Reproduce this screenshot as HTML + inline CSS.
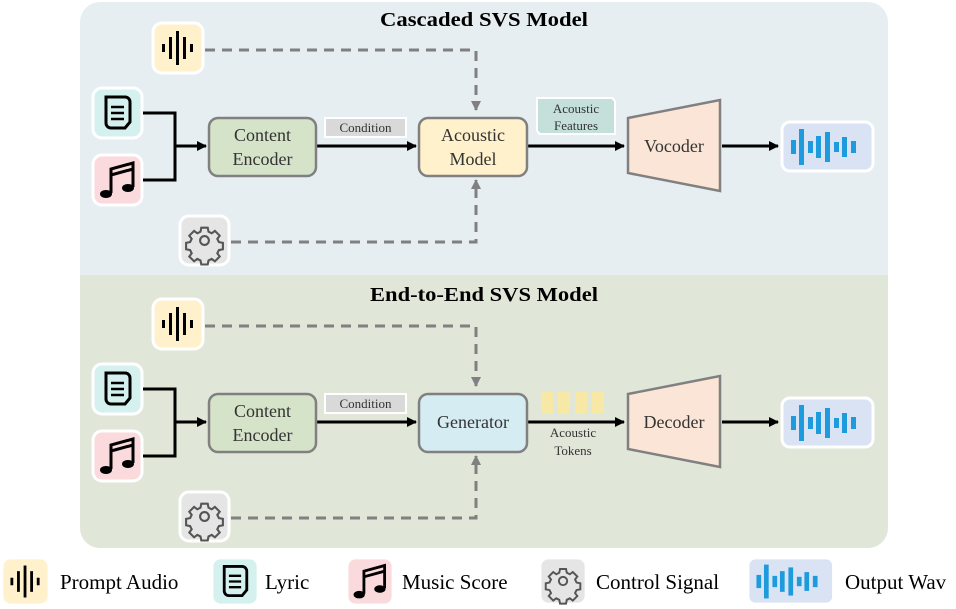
<!DOCTYPE html>
<html><head><meta charset="utf-8"><style>
html,body{margin:0;padding:0;background:#fff;}
svg{display:block;}
svg text{font-family:"Liberation Serif","Times New Roman",serif !important;}
</style></head><body>
<svg width="956" height="609" viewBox="0 0 956 609" xmlns="http://www.w3.org/2000/svg" font-family="Liberation Serif, serif">
<defs>
<marker id="ab" markerWidth="10" markerHeight="10" refX="9" refY="5" orient="auto" markerUnits="userSpaceOnUse"><path d="M0,0 L10,5 L0,10 z" fill="#000"/></marker>
<marker id="ag" markerWidth="10" markerHeight="10" refX="9" refY="5" orient="auto" markerUnits="userSpaceOnUse"><path d="M0,0 L10,5 L0,10 z" fill="#808080"/></marker>
<g id="audio"><rect x="0" y="0" width="50" height="50" rx="9" fill="#fff1cc" stroke="#fff" stroke-width="3"/>
<g fill="#000"><rect x="9" y="21" width="3" height="8"/><rect x="16" y="14" width="3" height="22"/><rect x="23" y="8" width="3" height="34"/><rect x="30" y="14" width="3" height="22"/><rect x="37" y="21" width="3" height="8"/></g></g>
<g id="lyric"><rect x="0" y="0" width="49" height="50" rx="9" fill="#d5f1ef" stroke="#fff" stroke-width="3"/>
<path d="M13,9 h19 a5,5 0 0 1 5,5 v20 l-5,6 h-14 a5,5 0 0 1 -5,-5 z" fill="none" stroke="#000" stroke-width="3"/>
<path d="M18,19 h13 M18,25 h13 M18,31 h13" stroke="#000" stroke-width="2.5"/></g>
<g id="music"><rect x="0" y="0" width="49" height="50" rx="9" fill="#fadadd" stroke="#fff" stroke-width="3"/>
<path d="M18,38 V14 L40,8 V32 M18,20 L40,14" fill="none" stroke="#000" stroke-width="3"/>
<ellipse cx="13" cy="39" rx="6" ry="4" fill="#000"/><ellipse cx="35" cy="33" rx="6" ry="4" fill="#000"/></g>
<g id="gear"><rect x="0" y="0" width="49" height="49" rx="9" fill="#e5e5e5" stroke="#fff" stroke-width="3"/>
<g transform="translate(24.5,24.5) scale(0.8)" fill="none" stroke="#555" stroke-width="2.6">
<path d="M-4,-16 h8 l1,5 l4,2 l4,-3 l6,6 l-3,4 l2,4 l5,1 v8 l-5,1 l-2,4 l3,4 l-6,6 l-4,-3 l-4,2 l-1,5 h-8 l-1,-5 l-4,-2 l-4,3 l-6,-6 l3,-4 l-2,-4 l-5,-1 v-8 l5,-1 l2,-4 l-3,-4 l6,-6 l4,3 l4,-2 z"/>
<circle r="5.5"/></g></g>
<g id="wav"><rect x="0" y="0" width="91" height="49" rx="8" fill="#dae3f3" stroke="#fff" stroke-width="3"/>
<g fill="#1e9bdc"><rect x="9" y="18" width="5" height="14"/><rect x="17" y="7" width="5" height="36"/><rect x="26" y="19" width="5" height="12"/><rect x="34" y="14" width="5" height="22"/><rect x="43" y="10" width="5" height="30"/><rect x="52" y="20" width="5" height="10"/><rect x="60" y="15" width="5" height="20"/><rect x="69" y="19" width="5" height="12"/></g></g>
</defs>

<path d="M80,275 V22 a20,20 0 0 1 20,-20 H868 a20,20 0 0 1 20,20 V275 z" fill="#e7eef2"/>
<path d="M80,275 V528 a20,20 0 0 0 20,20 H868 a20,20 0 0 0 20,-20 V275 z" fill="#e0e6d8"/>
<text x="484" y="26" text-anchor="middle" font-size="20" font-weight="bold" textLength="208" lengthAdjust="spacingAndGlyphs">Cascaded SVS Model</text>
<text x="484" y="301" text-anchor="middle" font-size="20" font-weight="bold" textLength="228" lengthAdjust="spacingAndGlyphs">End-to-End SVS Model</text>

<use href="#audio" x="153" y="23"/>
<use href="#lyric" x="93" y="88"/>
<use href="#music" x="93" y="155"/>
<use href="#gear" x="180" y="216"/>
<g fill="none" stroke-width="3">
<path d="M205,50 H476 V110" stroke="#808080" stroke-dasharray="10,7" marker-end="url(#ag)"/>
<path d="M231,242 H476 V180" stroke="#808080" stroke-dasharray="10,7" marker-end="url(#ag)"/>
<path d="M143,113 H175 V180 H143" stroke="#000"/>
<path d="M175,146 H206" stroke="#000" marker-end="url(#ab)"/>
<path d="M317,146 H416" stroke="#000" marker-end="url(#ab)"/>
<path d="M528,146 H624" stroke="#000" marker-end="url(#ab)"/>
<path d="M722,146 H778" stroke="#000" marker-end="url(#ab)"/>
</g>
<rect x="209" y="118" width="107" height="58" rx="9" fill="#d5e3c9" stroke="#808080" stroke-width="2.5"/>
<text x="262.5" y="141" text-anchor="middle" font-size="18" fill="#333">Content</text>
<text x="262.5" y="165" text-anchor="middle" font-size="18" fill="#333">Encoder</text>
<rect x="325" y="118" width="81" height="19" fill="#d9d9d9" stroke="#fff" stroke-width="2"/>
<text x="365.5" y="132" text-anchor="middle" font-size="13" fill="#333">Condition</text>
<rect x="419" y="118" width="108" height="58" rx="9" fill="#fff1cc" stroke="#808080" stroke-width="2.5"/>
<text x="473" y="141" text-anchor="middle" font-size="18" fill="#333">Acoustic</text>
<text x="473" y="165" text-anchor="middle" font-size="18" fill="#333">Model</text>
<path d="M537,98 H612 L615,101 V134 H540 L537,131 z" fill="#c5e0da" stroke="#fff" stroke-width="2"/>
<text x="576" y="113" text-anchor="middle" font-size="13" fill="#333">Acoustic</text>
<text x="576" y="130" text-anchor="middle" font-size="13" fill="#333">Features</text>
<path d="M628,118 L720,100 V191 L628,173 z" fill="#fbe5d6" stroke="#808080" stroke-width="2.5"/>
<text x="674" y="152" text-anchor="middle" font-size="18" fill="#333">Vocoder</text>
<use href="#wav" x="782" y="122"/>

<use href="#audio" x="153" y="299"/>
<use href="#lyric" x="93" y="364"/>
<use href="#music" x="93" y="431"/>
<use href="#gear" x="180" y="492"/>
<g fill="none" stroke-width="3">
<path d="M205,326 H476 V386" stroke="#808080" stroke-dasharray="10,7" marker-end="url(#ag)"/>
<path d="M231,518 H476 V456" stroke="#808080" stroke-dasharray="10,7" marker-end="url(#ag)"/>
<path d="M143,389 H175 V456 H143" stroke="#000"/>
<path d="M175,422 H206" stroke="#000" marker-end="url(#ab)"/>
<path d="M317,422 H416" stroke="#000" marker-end="url(#ab)"/>
<path d="M528,422 H624" stroke="#000" marker-end="url(#ab)"/>
<path d="M722,422 H778" stroke="#000" marker-end="url(#ab)"/>
</g>
<rect x="209" y="394" width="107" height="58" rx="9" fill="#d5e3c9" stroke="#808080" stroke-width="2.5"/>
<text x="262.5" y="417" text-anchor="middle" font-size="18" fill="#333">Content</text>
<text x="262.5" y="441" text-anchor="middle" font-size="18" fill="#333">Encoder</text>
<rect x="325" y="394" width="81" height="19" fill="#d9d9d9" stroke="#fff" stroke-width="2"/>
<text x="365.5" y="408" text-anchor="middle" font-size="13" fill="#333">Condition</text>
<rect x="419" y="394" width="108" height="58" rx="9" fill="#d6ecf3" stroke="#808080" stroke-width="2.5"/>
<text x="473" y="428" text-anchor="middle" font-size="18" fill="#333">Generator</text>
<g fill="#f7e8a6"><rect x="541" y="392" width="12" height="22"/><rect x="558" y="392" width="12" height="22"/><rect x="575" y="392" width="12" height="22"/><rect x="592" y="392" width="12" height="22"/></g>
<text x="573" y="437" text-anchor="middle" font-size="13" fill="#333">Acoustic</text>
<text x="573" y="455" text-anchor="middle" font-size="13" fill="#333">Tokens</text>
<path d="M628,394 L720,376 V467 L628,449 z" fill="#fbe5d6" stroke="#808080" stroke-width="2.5"/>
<text x="674" y="428" text-anchor="middle" font-size="18" fill="#333">Decoder</text>
<use href="#wav" x="782" y="398"/>

<g transform="translate(2,558) scale(0.94)"><use href="#audio"/></g>
<text x="60" y="589" font-size="21">Prompt Audio</text>
<g transform="translate(212,558) scale(0.94)"><use href="#lyric"/></g>
<text x="265" y="589" font-size="21">Lyric</text>
<g transform="translate(347,558) scale(0.94)"><use href="#music"/></g>
<text x="402" y="589" font-size="21">Music Score</text>
<g transform="translate(540,558) scale(0.94)"><use href="#gear"/></g>
<text x="596" y="589" font-size="21">Control Signal</text>
<g transform="translate(748,558) scale(0.94)"><use href="#wav"/></g>
<text x="845" y="589" font-size="21">Output Wav</text>
</svg>
</body></html>
